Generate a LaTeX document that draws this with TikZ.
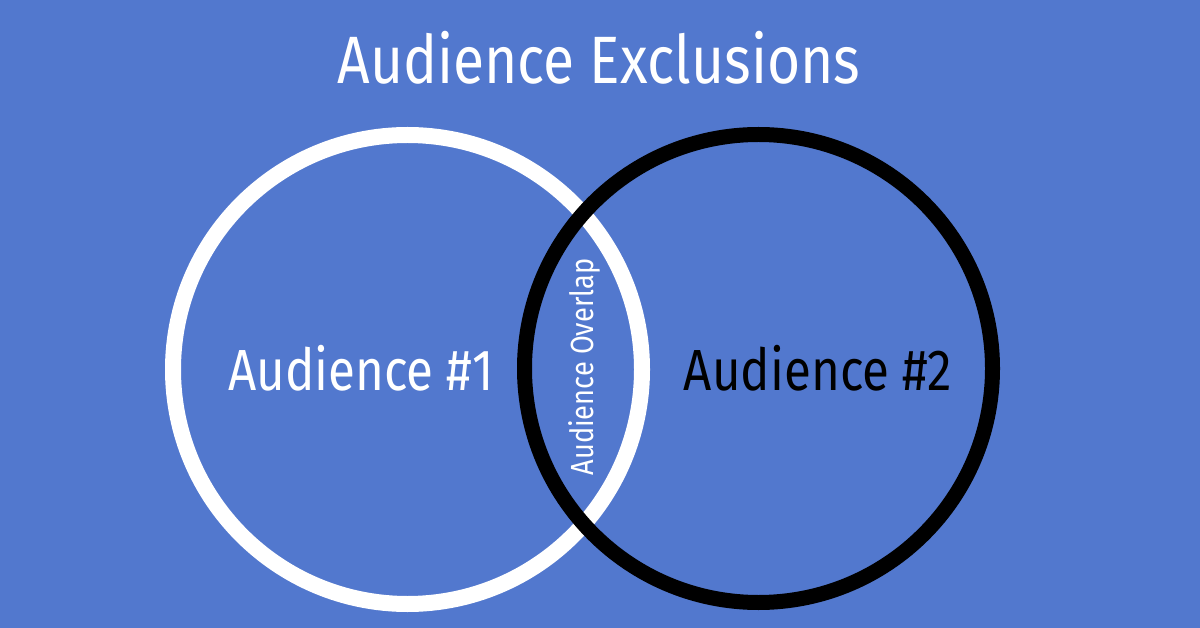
\documentclass[tikz,border=0pt]{standalone}
\usepackage{fontspec}
\setmainfont{Fira Sans}[FakeStretch=0.85]
\definecolor{bg}{RGB}{82,120,206}
\begin{document}
\begin{tikzpicture}[x=1pt,y=-1pt,
  lbl/.style={anchor=base,inner sep=0pt,font=\fontsize{58}{60}\selectfont}]
\fill[bg] (0,0) rectangle (1200,628);
\useasboundingbox (0,0) rectangle (1200,628);
\node[anchor=base,inner sep=0pt,text=white,font=\fontsize{67}{70}\selectfont] (title) at (599,84) {Audience Exclusions};
\draw[white,line width=16pt] (407.5,369.5) circle[radius=234.5pt];
\draw[black,line width=15pt] (758.5,368.5) circle[radius=234pt];
\node[lbl,text=white] (a1) at (361,390) {Audience \#1};
\node[lbl,text=black] (a2) at (818,390) {Audience \#2};
\node[anchor=base,inner sep=0pt,text=white,rotate=90,font=\fontsize{32}{34}\selectfont] (ov) at (593,367) {Audience Overlap};
\end{tikzpicture}
\end{document}
